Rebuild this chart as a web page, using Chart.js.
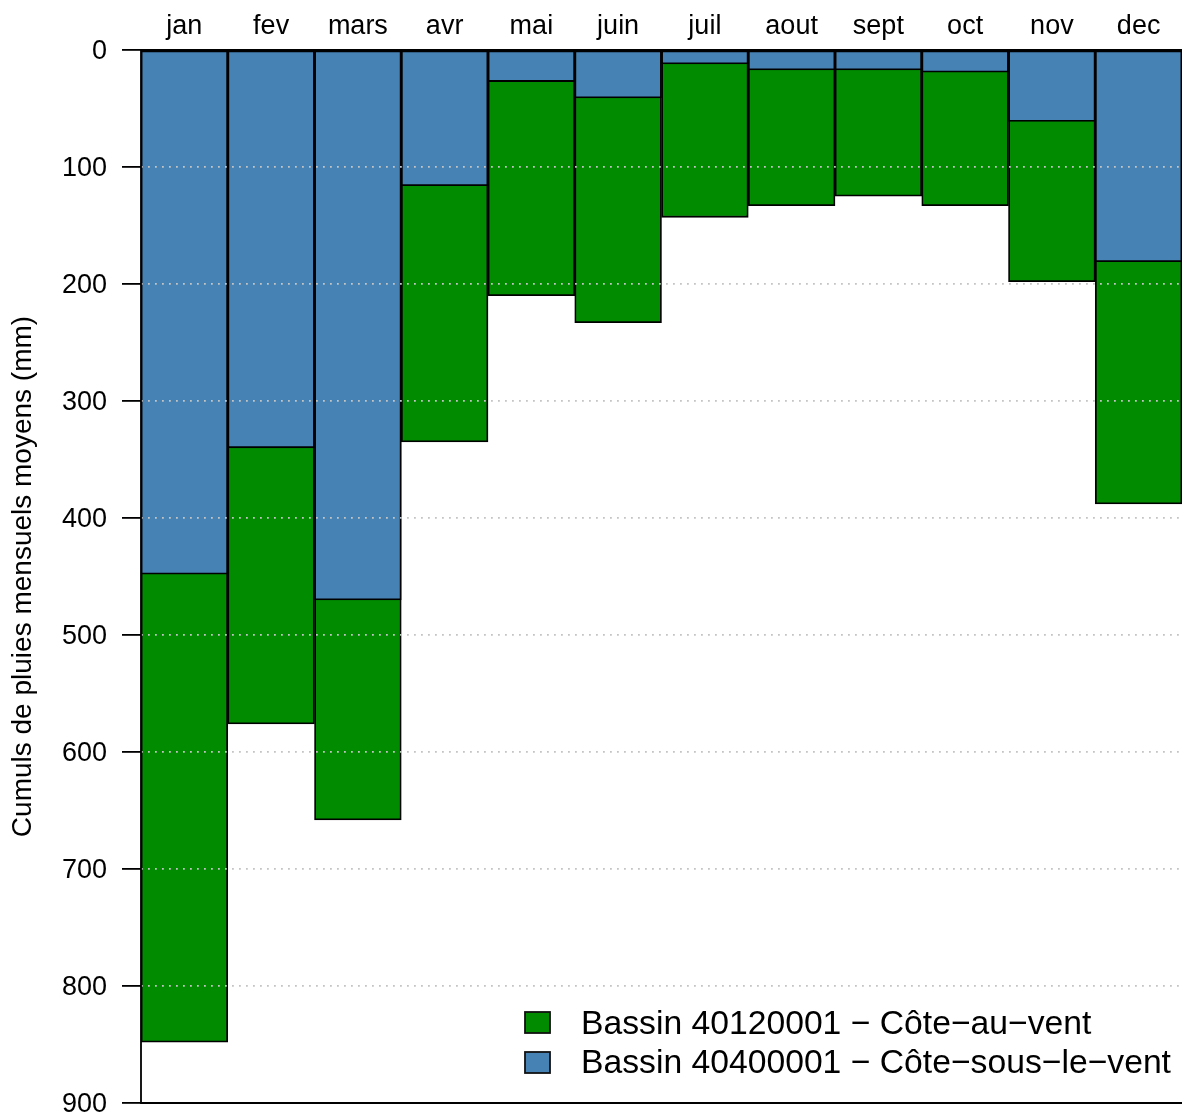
<!DOCTYPE html>
<html>
<head>
<meta charset="utf-8">
<script src="https://cdn.jsdelivr.net/npm/chart.js@4.4.1/dist/chart.umd.min.js"></script>
<style>
  html, body { margin: 0; padding: 0; background: #fff; overflow: hidden; }
  #wrap { width: 1182px; height: 1115px; }
</style>
</head>
<body>
<div id="wrap"><canvas id="chart" width="1182" height="1115"></canvas></div>
<script>
// Mean monthly rainfall totals (mm) for the two basins
const months = ['jan', 'fev', 'mars', 'avr', 'mai', 'juin', 'juil', 'aout', 'sept', 'oct', 'nov', 'dec'];
const coteAuVent = [848, 576, 658, 335, 210, 233, 143, 133, 125, 133, 198, 388];
const coteSousLeVent = [448, 340, 470, 116, 27, 41, 12, 17, 17, 19, 61, 181];
const seriesNames = ['Bassin 40120001 \u2212 C\u00f4te\u2212au\u2212vent', 'Bassin 40400001 \u2212 C\u00f4te\u2212sous\u2212le\u2212vent'];
const seriesColors = ['#008B00', '#4682B4'];
const yMin = 0;
const yMax = 900;
const yStep = 100;
const yTitle = 'Cumuls de pluies mensuels moyens (mm)';

const FONT = '"Liberation Sans", Arial, Helvetica, sans-serif';

// Frame around the plot region plus the legend drawn inside the bottom-right corner
const framePlugin = {
  id: 'frame',
  afterDraw(chart) {
    const { ctx, chartArea: a } = chart;
    ctx.save();
    ctx.strokeStyle = '#000';
    ctx.lineWidth = 1.8;
    ctx.beginPath();
    ctx.moveTo(a.right + 2, a.top);
    ctx.lineTo(a.left, a.top);
    ctx.lineTo(a.left, a.bottom);
    ctx.lineTo(a.right + 2, a.bottom);
    ctx.stroke();

    // legend
    const boxX = 525, boxW = 25, boxH = 21;
    const rows = [{ y: 1012, base: 1034 }, { y: 1052, base: 1073 }];
    ctx.font = '33.7px ' + FONT;
    ctx.textAlign = 'left';
    ctx.textBaseline = 'alphabetic';
    rows.forEach((r, i) => {
      ctx.fillStyle = seriesColors[i];
      ctx.fillRect(boxX, r.y, boxW, boxH);
      ctx.strokeStyle = '#111';
      ctx.lineWidth = 1.8;
      ctx.strokeRect(boxX, r.y, boxW, boxH);
      ctx.fillStyle = '#000';
      ctx.fillText(seriesNames[i], 581, r.base);
    });
    ctx.restore();
  }
};

const barCommon = {
  borderColor: '#000',
  borderWidth: 1.8,
  borderSkipped: false,
  grouped: false,
  categoryPercentage: 1.0,
  barPercentage: 1.0
};

new Chart(document.getElementById('chart'), {
  type: 'bar',
  data: {
    labels: months,
    datasets: [
      Object.assign({ label: seriesNames[0], data: coteAuVent, backgroundColor: seriesColors[0], order: 2 }, barCommon),
      Object.assign({ label: seriesNames[1], data: coteSousLeVent, backgroundColor: seriesColors[1], order: 1 }, barCommon)
    ]
  },
  options: {
    responsive: false,
    devicePixelRatio: 1,
    animation: false,
    events: [],
    layout: { padding: { left: 0, right: 0, top: 0, bottom: 12 } },
    plugins: {
      legend: { display: false },
      tooltip: { enabled: false },
      title: { display: false }
    },
    scales: {
      x: {
        position: 'top',
        offset: true,
        grid: { display: false },
        border: { display: false },
        ticks: {
          color: '#000',
          font: { family: FONT, size: 27 },
          padding: -1,
          maxRotation: 0,
          autoSkip: false
        },
        afterFit(scale) { scale.height = 50; scale.paddingLeft = 0; scale.paddingRight = 0; }
      },
      y: {
        reverse: true,
        min: yMin,
        max: yMax,
        ticks: {
          stepSize: yStep,
          color: '#000',
          font: { family: FONT, size: 27 },
          padding: 15,
          labelOffset: 2
        },
        grid: {
          z: 1,
          color: (ctx) => (ctx.tick && (ctx.tick.value === yMin || ctx.tick.value === yMax)) ? 'rgba(0,0,0,0)' : '#c4c4c4',
          lineWidth: 1.8,
          drawTicks: true,
          tickLength: 19,
          tickColor: '#000',
          tickWidth: 1.8,
          tickBorderDash: []
        },
        border: { display: false, dash: [1.8, 5.2] },
        title: {
          display: true,
          text: yTitle,
          color: '#000',
          font: { family: FONT, size: 28 },
          padding: { top: 6, bottom: 0 }
        },
        afterFit(scale) { scale.width = 141; scale.paddingTop = 0; scale.paddingBottom = 0; }
      }
    }
  },
  plugins: [framePlugin]
});
</script>
</body>
</html>
